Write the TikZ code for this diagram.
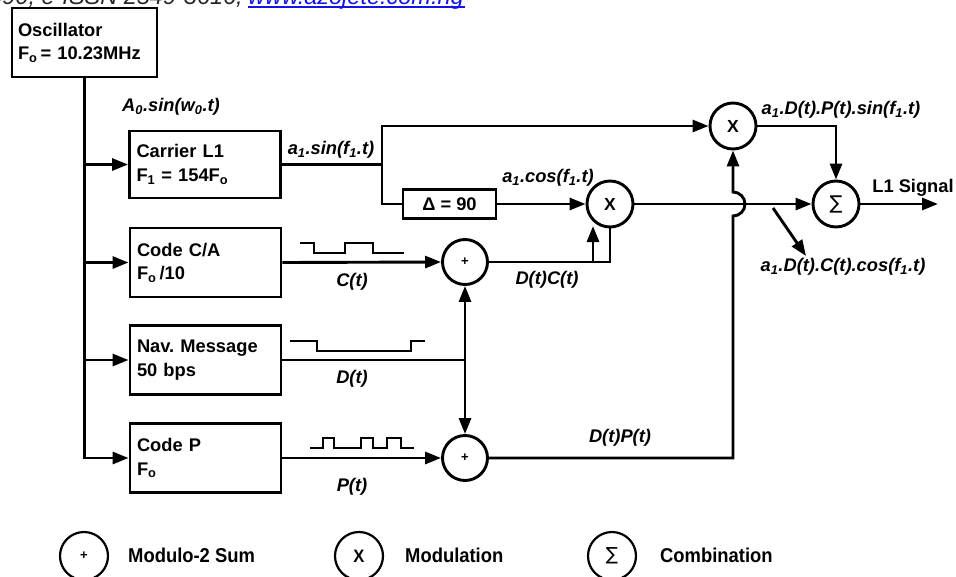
\documentclass[tikz,border=0pt]{standalone}
\usepackage{fontspec}
\setmainfont{Liberation Sans}
\newfontfamily\sumfont{DejaVu Sans}
\newfontfamily\legfont[FakeStretch=0.92]{Liberation Sans}
\usetikzlibrary{arrows.meta}
\usetikzlibrary{shapes.geometric}
\definecolor{linkblue}{RGB}{20,20,230}
\frenchspacing
\tikzset{
 ln/.style={line width=2.9pt},
 arr/.style={ln, -{Triangle[length=16pt,width=12pt]}},
 blk/.style={draw, ln, minimum width=151pt, minimum height=69pt, text width=137pt, inner xsep=7pt, inner ysep=0pt, align=left, font=\fontsize{18.3}{23.5}\selectfont\bfseries},
 opc/.style={draw, ln, circle, minimum size=46pt, inner sep=0pt},
 lbl/.style={font=\fontsize{18.3}{22}\selectfont\bfseries\itshape, inner sep=0pt},
 wave/.style={line width=2.5pt},
 legc/.style={draw, line width=2.2pt, ellipse, minimum width=48pt, minimum height=48pt, inner sep=0pt},
 legt/.style={anchor=west, inner sep=0pt, font=\fontsize{20}{22}\legfont\bfseries},
}
\begin{document}
\begin{tikzpicture}[x=1pt,y=-1pt]
\useasboundingbox (0,0) rectangle (956,576);
\clip (0,0) rectangle (956,576);
% header (clipped by the page edge, as in the reference)
\node[anchor=base east, inner sep=0pt, font=\fontsize{23.5}{28}\selectfont\itshape, text=black!85] (hdr) at (243,4) {490, e-ISSN 2549-3616,};
\node[anchor=base west, inner sep=0pt, font=\fontsize{23.5}{28}\selectfont\itshape, text=linkblue] (url) at (248,4) {www.azojete.com.ng};
\draw[linkblue, line width=1.2pt] (248,7) -- (465,7);

% blocks
\node[blk, minimum width=145pt, text width=133pt, inner xsep=6pt] (osc) at (84.5,42.5) {Oscillator\\F\textsubscript{o}\,= 10.23MHz};
\node[blk, minimum width=150pt, minimum height=67pt] (car) at (205,164.5) {Carrier L1\\F\textsubscript{1} = 154F\textsubscript{o}};
\node[blk] (ca) at (205.5,262.5) {Code C/A\\F\textsubscript{o}\,/10};
\node[blk] (nav) at (205.5,360) {Nav. Message\\50 bps};
\node[blk] (cp) at (205.5,458) {Code P\\F\textsubscript{o}};
\node[draw, ln, minimum width=93pt, minimum height=29pt, inner sep=0pt, font=\fontsize{18.3}{22}\selectfont\bfseries] (delta) at (449.5,204) {Δ = 90};

% operators
\node[opc, font=\fontsize{17.5}{20}\selectfont\bfseries] (x1) at (733,126) {X};
\node[opc, font=\fontsize{17.5}{20}\selectfont\bfseries] (x2) at (610,204) {X};
\node[opc, font=\fontsize{19}{22}\sumfont] (sig) at (836,204) {∑};
\node[opc, minimum size=45pt, font=\fontsize{13}{14}\selectfont\bfseries] (p1) at (465,262) {+};
\node[opc, minimum size=45pt, font=\fontsize{13}{14}\selectfont\bfseries] (p2) at (465,458) {+};

% coordinates
\coordinate (sp) at (382,164.5);
\coordinate (j) at (465,360);
\coordinate (h1) at (733,458);
\coordinate (h2) at (733,216);
\coordinate (dc1) at (593,262);
\coordinate (dc2) at (593,226);
\coordinate (d1) at (773,208);
\coordinate (d2) at (806,256);
\coordinate (out) at (938,204);

% trunk
\draw[arr] (osc.south) |- (cp.west);
\draw[arr] (osc.south |- car.west) -- (car.west);
\draw[arr] (osc.south |- ca.west) -- (ca.west);
\draw[arr] (osc.south |- nav.west) -- (nav.west);

% carrier
\draw[ln] (car.east) -- (sp);
\draw[arr] (sp) |- (x1.west);
\draw[ln] (sp) |- (delta.west);
\draw[arr] (delta.east) -- (x2.west);
\draw[arr] (x2.east) -- (sig.west);
\draw[arr] (x1.east) -| (sig.north);
\draw[arr] (sig.east) -- (out);
\draw[arr] (d1) -- (d2);

% codes
\draw[arr] (ca.east) -- (p1.west);
\draw[ln] (p1.east) -| (x2.south);
\draw[arr] (dc1) -- (dc2);
\draw[ln] (nav.east) -- (j);
\draw[arr] (j) -- (p1.south);
\draw[arr] (j) -- (p2.north);
\draw[arr] (cp.east) -- (p2.west);
\draw[arr] (p2.east) -- (h1) -- (h2) arc[start angle=-90, end angle=90, radius=12pt] -- (x1.south);

% waveforms
\draw[wave] (300,243) -- (314,243) -- (314,253) -- (345,253) -- (345,243) -- (373,243) -- (373,253) -- (404,253);
\draw[wave] (290,341) -- (317,341) -- (317,351) -- (411,351) -- (411,341) -- (425,341);
\draw[wave] (310,448) -- (323,448) -- (323,438) -- (334,438) -- (334,448) -- (361,448) -- (361,438) -- (373,438) -- (373,448) -- (387,448) -- (387,438) -- (401,438) -- (401,448) -- (414,448);

% labels
\node[lbl] (la0) at (171,107) {A\textsubscript{0}.sin(w\textsubscript{0}.t)};
\node[lbl] (lsin) at (331,150) {a\textsubscript{1}.sin(f\textsubscript{1}.t)};
\node[lbl] (lcos) at (548,178) {a\textsubscript{1}.cos(f\textsubscript{1}.t)};
\node[lbl] (ldp) at (841,110) {a\textsubscript{1}.D(t).P(t).sin(f\textsubscript{1}.t)};
\node[lbl] (ldc) at (843,267) {a\textsubscript{1}.D(t).C(t).cos(f\textsubscript{1}.t)};
\node[inner sep=0pt, font=\fontsize{18.3}{22}\selectfont\bfseries] (l1) at (913,188) {L1 Signal};
\node[lbl] (lc) at (352,282) {C(t)};
\node[lbl] (ld) at (352,379) {D(t)};
\node[lbl] (lp) at (352,487) {P(t)};
\node[lbl] (ldct) at (547,280) {D(t)C(t)};
\node[lbl] (ldpt) at (620,438) {D(t)P(t)};

% legend
\node[legc, font=\fontsize{13}{14}\selectfont\bfseries] (g1) at (84,556) {+};
\node[legt] (t1) at (128,555) {Modulo-2 Sum};
\node[legc, font=\fontsize{18}{20}\legfont\bfseries] (g2) at (359,556) {X};
\node[legt] (t2) at (405,555) {Modulation};
\node[legc, font=\fontsize{18}{20}\sumfont] (g3) at (612,556) {∑};
\node[legt] (t3) at (660,555) {Combination};
\end{tikzpicture}
\end{document}
